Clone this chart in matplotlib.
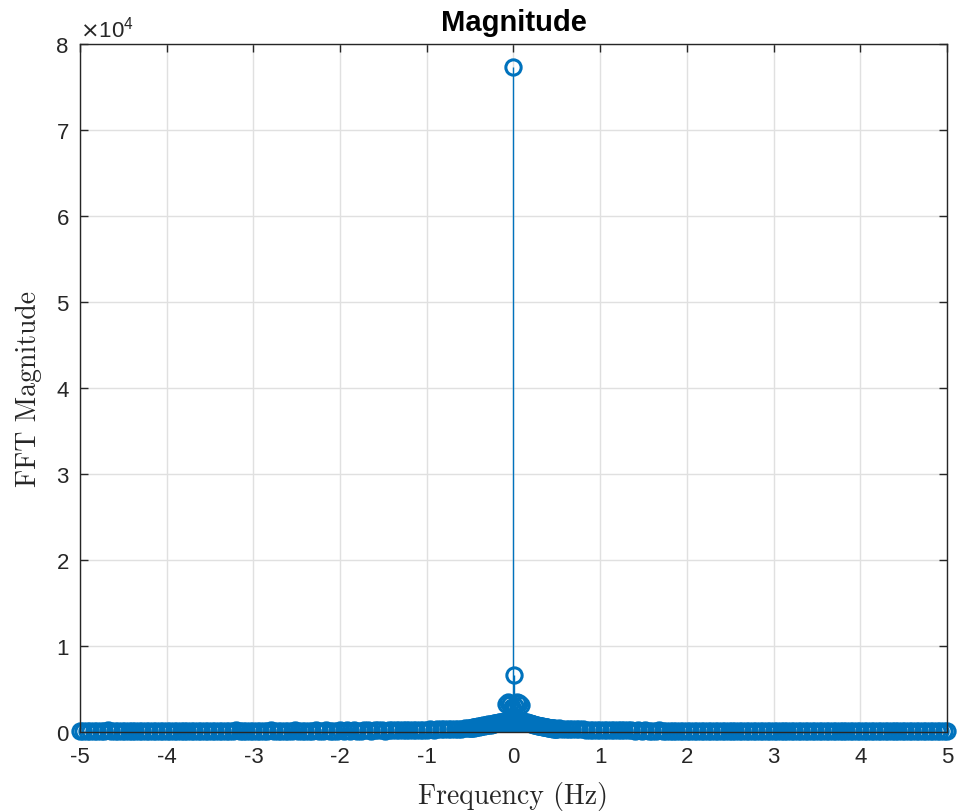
#!/usr/bin/env python3
"""Stem plot of an FFT magnitude spectrum (MATLAB-style look)."""

import matplotlib

matplotlib.use("Agg")
import matplotlib.pyplot as plt
import numpy as np
from matplotlib.ticker import FuncFormatter

# Frequency bins are 0.04 Hz apart away from DC, 0.01 Hz apart near it.
left_freq = np.round(np.arange(-5.0, -0.50, 0.04), 2)
left_mag = [
    150, 120, 170, 110, 140, 160, 100, 130, 180, 120,
    140, 110, 160, 130, 100, 150, 170, 120, 140, 110,
    160, 130, 150, 100, 170, 140, 120, 160, 110, 150,
    130, 170, 120, 140, 100, 160, 150, 110, 170, 130,
    140, 120, 160, 150, 110, 180, 130, 150, 120, 170,
    140, 160, 110, 150, 130, 180, 120, 160, 140, 170,
    150, 130, 180, 140, 160, 120, 170, 150, 190, 140,
    160, 180, 130, 170, 150, 190, 140, 180, 160, 200,
    170, 150, 190, 180, 160, 210, 180, 200, 170, 220,
    190, 210, 200, 230, 210, 240, 220, 250, 240, 270,
    260, 290, 280, 310, 300, 330, 320, 360, 350, 380,
    400, 430, 460,
]
right_freq = np.round(np.arange(0.52, 5.01, 0.04), 2)
right_mag = [
    420, 390, 370, 350, 330, 320, 300, 290, 270, 260,
    250, 240, 230, 220, 230, 210, 200, 210, 190, 200,
    180, 190, 170, 180, 160, 190, 150, 170, 160, 180,
    140, 170, 150, 130, 160, 140, 170, 120, 150, 160,
    130, 150, 110, 160, 140, 120, 170, 130, 150, 110,
    160, 140, 120, 150, 130, 170, 110, 140, 160, 120,
    150, 100, 140, 170, 120, 150, 130, 110, 160, 140,
    120, 150, 170, 110, 140, 130, 160, 100, 150, 120,
    170, 130, 140, 110, 160, 150, 120, 140, 100, 130,
    160, 120, 150, 110, 140, 170, 130, 150, 120, 160,
    110, 140, 130, 150, 120, 170, 100, 140, 160, 130,
    150, 120, 140,
]

# Low-frequency hump around DC
inner_freq = np.round(np.arange(-0.5, 0.505, 0.01), 2)
inner_mag = [
    480, 520, 450, 560, 510, 600, 540, 620, 580, 650,
    610, 700, 660, 740, 690, 780, 730, 820, 770, 860,
    810, 880, 840, 920, 870, 960, 910, 1000, 950, 1040,
    990, 1080, 1030, 1110, 1060, 1150, 1100, 1200, 1150, 1260,
    1200, 1300, 1250, 1350, 1300, 1400, 1350, 1450, 1400, 1500,
    1550, 1480, 1400, 1440, 1360, 1390, 1300, 1330, 1250, 1280,
    1200, 1230, 1150, 1170, 1090, 1120, 1040, 1060, 990, 1010,
    940, 960, 880, 900, 830, 850, 780, 800, 730, 750,
    690, 710, 640, 660, 600, 620, 560, 580, 530, 550,
    490, 510, 460, 470, 430, 440, 400, 410, 380, 390,
    370,
]

# Strongest bins right next to DC
peak_freq = [-0.09, -0.06, -0.035, -0.015, 0.0, 0.004, 0.015, 0.035, 0.06, 0.09]
peak_mag = [3200, 3500, 3300, 2900, 77300, 6600, 3000, 3500, 3400, 3100]

freq = np.concatenate([left_freq, inner_freq, peak_freq, right_freq])
mag = np.concatenate([left_mag, inner_mag, peak_mag, right_mag])

BLUE = "#0072BD"
TEXT = "#262626"

plt.rcParams["font.family"] = ["Liberation Sans", "DejaVu Sans"]
plt.rcParams["axes.unicode_minus"] = False

fig = plt.figure(figsize=(9.59, 8.12), dpi=100)
ax = fig.add_axes([0.0834, 0.0973, 0.9041, 0.8473])

markerline, stemlines, baseline = ax.stem(freq, mag, basefmt=" ")
plt.setp(markerline, color=BLUE, marker="o", markersize=11,
         markerfacecolor="none", markeredgewidth=2.2, clip_on=False, zorder=3)
plt.setp(stemlines, color=BLUE, linewidth=1.0)

ax.set_xlim(-5, 5)
ax.set_ylim(0, 80000)
ax.set_xticks(np.arange(-5, 6, 1))
ax.set_yticks(np.arange(0, 80001, 10000))
ax.yaxis.set_major_formatter(FuncFormatter(lambda v, _: f"{v / 1e4:g}"))
ax.text(0.0, 1.003, r"$\times\mathregular{10^{4}}$", transform=ax.transAxes,
        ha="left", va="bottom", fontsize=16, color=TEXT)

ax.grid(True, color="#e0e0e0", linewidth=1.0)
ax.set_axisbelow(True)
ax.tick_params(direction="in", top=True, right=True, length=6,
               labelsize=16, colors=TEXT, width=1.0)
ax.tick_params(axis="x", pad=10)
ax.tick_params(axis="y", pad=8)
for spine in ax.spines.values():
    spine.set_color(TEXT)
    spine.set_linewidth(1.0)
    spine.set_zorder(4)

ax.set_title("Magnitude", fontsize=21, fontweight="bold", pad=10)
ax.set_xlabel("Frequency (Hz)", family="cmr10", fontsize=20, color=TEXT,
              labelpad=10)
ax.set_ylabel("FFT Magnitude", family="cmr10", fontsize=20, color=TEXT,
              labelpad=10)

fig.savefig("out.png", dpi=100)
